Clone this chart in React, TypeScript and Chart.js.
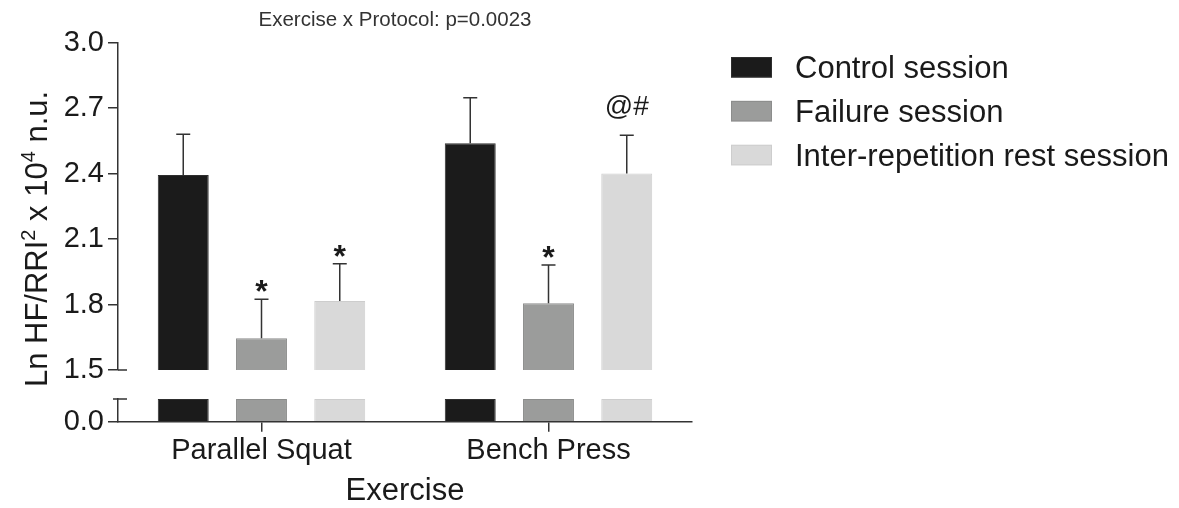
import React, { useEffect, useRef } from 'react';
import { Chart, registerables } from 'chart.js';

Chart.register(...registerables);

// ---- data ----
const categories = ['Parallel Squat', 'Bench Press'];
const seriesLabels = ['Control session', 'Failure session', 'Inter-repetition rest session'];
const controlMean = [2.394, 2.539];
const controlSD = [0.186, 0.209];
const failureMean = [1.645, 1.806];
const failureSD = [0.179, 0.175];
const irrMean = [1.816, 2.4];
const irrSD = [0.171, 0.176];
const controlMarks = ['', ''];
const failureMarks = ['*', '*'];
const irrMarks = ['*', '@#'];
const upperTicks = [1.5, 1.8, 2.1, 2.4, 2.7, 3.0];
const lowerTicks = [0.0];
const upperRange = [1.5, 3.0];
const lowerRange = [0, 0.1];
const chartTitle = 'Exercise x Protocol: p=0.0023';
const xTitle = 'Exercise';

// ---- style ----
const FONT = "'Liberation Sans', Arial, Helvetica, sans-serif";
const TEXT = '#1a1a1a';
const AXIS = '#333333';
const FILLS = ['#1b1b1b', '#9b9c9b', '#d9d9d9'];
const EDGES = ['#2e2e2e', '#8c8d8c', '#cdcdcd'];
const W = 1179;
const H = 508;

export default function App() {
  const ref = useRef<HTMLCanvasElement | null>(null);

  useEffect(() => {
    document.body.style.margin = '0';
    const canvas = ref.current;
    if (!canvas) return;

    const means = [controlMean, failureMean, irrMean];
    const sds = [controlSD, failureSD, irrSD];
    const marks = [controlMarks, failureMarks, irrMarks];
    const stackKeys = ['c', 'f', 'r'];

    const common = (i: number) => ({
      stack: stackKeys[i],
      backgroundColor: FILLS[i],
      borderColor: EDGES[i],
      borderWidth: 1,
      categoryPercentage: 0.818,
      barPercentage: 0.651,
    });

    const datasets: any[] = [
      ...means.map((m, i) => ({ label: seriesLabels[i], data: m, yAxisID: 'yTop', ...common(i) })),
      ...means.map((m, i) => ({
        label: seriesLabels[i] + ' (below break)',
        data: m.map((v) => Math.min(v, lowerRange[1])),
        yAxisID: 'yBot',
        ...common(i),
      })),
    ];

    const errorBars = {
      id: 'errorBars',
      afterDatasetsDraw(chart: any) {
        const c = chart.ctx;
        const yTop = chart.scales.yTop;
        c.save();
        c.strokeStyle = AXIS;
        c.lineWidth = 1.5;
        for (let i = 0; i < 3; i++) {
          const meta = chart.getDatasetMeta(i);
          meta.data.forEach((bar: any, j: number) => {
            const hi = yTop.getPixelForValue(means[i][j] + sds[i][j]);
            c.beginPath();
            c.moveTo(bar.x, bar.y);
            c.lineTo(bar.x, hi);
            c.moveTo(bar.x - 7, hi);
            c.lineTo(bar.x + 7, hi);
            c.stroke();
            const mk = marks[i][j];
            if (mk) {
              c.fillStyle = TEXT;
              c.textAlign = 'center';
              c.textBaseline = 'alphabetic';
              if (mk === '*') {
                c.font = `bold 32px ${FONT}`;
                c.fillText(mk, bar.x, hi + 3);
              } else {
                c.font = `28px ${FONT}`;
                c.fillText(mk, bar.x, hi - 20);
              }
            }
          });
        }
        c.restore();
      },
    };

    const decorations = {
      id: 'decorations',
      afterDraw(chart: any) {
        const c = chart.ctx;
        const yTop = chart.scales.yTop;
        const yBot = chart.scales.yBot;
        const ax = chart.chartArea.left;
        c.save();
        c.strokeStyle = AXIS;
        c.lineWidth = 1.5;
        // axis break marks
        const yb = yTop.getPixelForValue(upperRange[0]);
        c.beginPath();
        c.moveTo(ax, yb);
        c.lineTo(ax + 9, yb);
        const yt = yBot.getPixelForValue(lowerRange[1]);
        c.moveTo(ax - 5, yt);
        c.lineTo(ax + 9, yt);
        c.stroke();

        // chart title
        c.fillStyle = '#333';
        c.font = `20.5px ${FONT}`;
        c.textAlign = 'center';
        c.textBaseline = 'middle';
        c.fillText(chartTitle, 395, 20);

        // legend
        for (let i = 0; i < 3; i++) {
          const top = 57 + 43.9 * i;
          c.fillStyle = FILLS[i];
          c.fillRect(731, top, 41, 20.5);
          c.strokeStyle = EDGES[i];
          c.lineWidth = 1;
          c.strokeRect(731.5, top + 0.5, 40, 19.5);
          c.fillStyle = TEXT;
          c.font = `31px ${FONT}`;
          c.textAlign = 'left';
          c.textBaseline = 'alphabetic';
          c.fillText(seriesLabels[i], 795, top + 21);
        }

        // y-axis title with superscripts
        const parts: [string, boolean][] = [
          ['Ln HF/RRI', false],
          ['2', true],
          [' x 10', false],
          ['4', true],
          [' n.u.', false],
        ];
        const big = `31px ${FONT}`;
        const small = `20px ${FONT}`;
        let total = 0;
        for (const [t, sup] of parts) {
          c.font = sup ? small : big;
          total += c.measureText(t).width;
        }
        c.translate(47, 239);
        c.rotate(-Math.PI / 2);
        c.fillStyle = TEXT;
        c.textAlign = 'left';
        c.textBaseline = 'alphabetic';
        let x = -total / 2;
        for (const [t, sup] of parts) {
          c.font = sup ? small : big;
          c.fillText(t, x, sup ? -12 : 0);
          x += c.measureText(t).width;
        }
        c.restore();
      },
    };

    const yCommon = {
      type: 'linear',
      position: 'left',
      stack: 'y',
      stacked: false,
      grid: { drawOnChartArea: false, tickLength: 10, color: AXIS, lineWidth: 1.5 },
      border: { display: true, color: AXIS, width: 1.5 },
      ticks: {
        color: TEXT,
        font: { size: 29, family: FONT },
        padding: 4,
        callback: (v: any) => Number(v).toFixed(1),
      },
      afterFit: (s: any) => {
        s.width = 118;
      },
    };

    const chart = new Chart(canvas, {
      type: 'bar',
      data: { labels: categories, datasets },
      plugins: [errorBars, decorations],
      options: {
        animation: false,
        responsive: true,
        maintainAspectRatio: false,
        layout: { padding: { top: 42.7, right: 487, bottom: 0, left: 0 } },
        plugins: {
          legend: { display: false },
          tooltip: { enabled: false },
          title: { display: false },
        },
        scales: {
          x: {
            type: 'category',
            offset: true,
            grid: { display: true, drawOnChartArea: false, offset: false, tickLength: 10, color: AXIS, lineWidth: 1.5 },
            border: { display: true, color: AXIS, width: 1.5 },
            ticks: { color: TEXT, font: { size: 29, family: FONT }, padding: 2 },
            title: {
              display: true,
              text: xTitle,
              color: TEXT,
              font: { size: 31, family: FONT, lineHeight: 1 },
              padding: { top: 0, bottom: 1 },
            },
            afterFit: (s: any) => {
              s.height = 86.3;
            },
          },
          yBot: {
            ...yCommon,
            min: lowerRange[0],
            max: lowerRange[1],
            stackWeight: 22.7,
            afterBuildTicks: (s: any) => {
              s.ticks = lowerTicks.map((v) => ({ value: v }));
            },
          },
          ySpacer: {
            type: 'linear',
            position: 'left',
            stack: 'y',
            stackWeight: 29,
            grid: { display: false },
            border: { display: false },
            ticks: { display: false },
            afterFit: (s: any) => {
              s.width = 118;
            },
          },
          yTop: {
            ...yCommon,
            min: upperRange[0],
            max: upperRange[1],
            stackWeight: 327.3,
            afterBuildTicks: (s: any) => {
              s.ticks = upperTicks.map((v) => ({ value: v }));
            },
          },
        } as any,
      },
    } as any);

    return () => chart.destroy();
  }, []);

  return (
    <div style={{ position: 'absolute', left: 0, top: 0, width: W, height: H }}>
      <canvas ref={ref} />
    </div>
  );
}
